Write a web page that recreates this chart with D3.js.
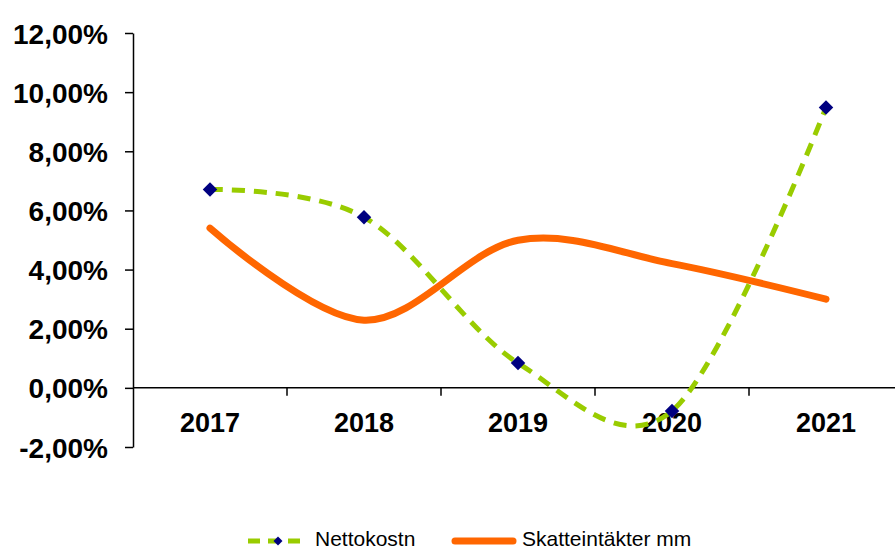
<!DOCTYPE html>
<html>
<head>
<meta charset="utf-8">
<script src="https://cdnjs.cloudflare.com/ajax/libs/d3/7.8.5/d3.min.js"></script>
<style>
  body { margin: 0; background: #fff; }
  svg { display: block; font-family: "Liberation Sans", Arial, sans-serif; }
  .axis path, .axis line { stroke: #000; stroke-width: 1.5; }
  .axis text { font-weight: bold; fill: #000; }
</style>
</head>
<body>
<div id="chart"></div>
<script>
var years = ['2017', '2018', '2019', '2020', '2021'];
var nettokostn = [6.71, 5.77, 0.84, -0.78, 9.48];
var skatteintakter = [5.40, 2.29, 4.99, 4.20, 3.00];
var yTicks = [-2, 0, 2, 4, 6, 8, 10, 12];
var seriesNames = ['Nettokostn', 'Skatteintäkter mm'];

var width = 895, height = 550;
var plot = { left: 133, right: 903, top: 33, bottom: 447 };

var svg = d3.select('#chart').append('svg')
  .attr('width', width)
  .attr('height', height);

var x = d3.scaleBand().domain(years).range([plot.left, plot.right]).padding(0);
var y = d3.scaleLinear().domain([-2, 12]).range([plot.bottom, plot.top]);
var cx = function(d) { return x(d) + x.bandwidth() / 2; };

// y axis
var yAxis = d3.axisLeft(y)
  .tickValues(yTicks)
  .tickSize(8)
  .tickSizeOuter(0)
  .tickPadding(17)
  .tickFormat(function(d) { return d.toFixed(2).replace('.', ',') + '%'; });

svg.append('g')
  .attr('class', 'axis')
  .attr('transform', 'translate(' + plot.left + ',0)')
  .call(yAxis)
  .selectAll('text')
  .style('font-size', '28px')
  .attr('dy', '0.36em');

// x axis at zero line
var xg = svg.append('g').attr('class', 'axis');
xg.append('line')
  .attr('x1', plot.left).attr('x2', plot.right)
  .attr('y1', y(0)).attr('y2', y(0));
xg.selectAll('.xtick').data(years.slice(1)).join('line')
  .attr('class', 'xtick')
  .attr('x1', function(d) { return x(d); })
  .attr('x2', function(d) { return x(d); })
  .attr('y1', y(0)).attr('y2', y(0) + 8);
xg.selectAll('.xlabel').data(years).join('text')
  .attr('class', 'xlabel')
  .attr('x', cx)
  .attr('y', y(0) + 44)
  .attr('text-anchor', 'middle')
  .style('font-size', '27px')
  .text(function(d) { return d; });

var line = d3.line()
  .x(function(d, i) { return cx(years[i]); })
  .y(function(d) { return y(d); })
  .curve(d3.curveCardinal.tension(0));

svg.append('path')
  .datum(skatteintakter)
  .attr('fill', 'none')
  .attr('stroke', '#ff6600')
  .attr('stroke-width', 7)
  .attr('stroke-linecap', 'round')
  .attr('d', line);

svg.append('path')
  .datum(nettokostn)
  .attr('fill', 'none')
  .attr('stroke', '#99cc00')
  .attr('stroke-width', 5)
  .attr('stroke-dasharray', '13,9')
  .attr('d', line);

// diamonds = squares turned 45 degrees
var diamond = d3.symbol().type(d3.symbolSquare).size(105);
svg.selectAll('.marker').data(nettokostn).join('path')
  .attr('class', 'marker')
  .attr('transform', function(d, i) { return 'translate(' + cx(years[i]) + ',' + y(d) + ') rotate(45)'; })
  .attr('fill', '#000080')
  .attr('d', diamond);

// legend
var lg = svg.append('g').style('font-size', '21px');
lg.append('line')
  .attr('x1', 248).attr('x2', 302).attr('y1', 541).attr('y2', 541)
  .attr('stroke', '#99cc00').attr('stroke-width', 5)
  .attr('stroke-dasharray', '12,8');
lg.append('path')
  .attr('transform', 'translate(278,541) rotate(45)')
  .attr('fill', '#000080')
  .attr('d', d3.symbol().type(d3.symbolSquare).size(40));
lg.append('text').attr('x', 315).attr('y', 546).text(seriesNames[0]);
lg.append('line')
  .attr('x1', 455).attr('x2', 513).attr('y1', 541).attr('y2', 541)
  .attr('stroke', '#ff6600').attr('stroke-width', 7)
  .attr('stroke-linecap', 'round');
lg.append('text').attr('x', 522).attr('y', 546).text(seriesNames[1]);
</script>
</body>
</html>
